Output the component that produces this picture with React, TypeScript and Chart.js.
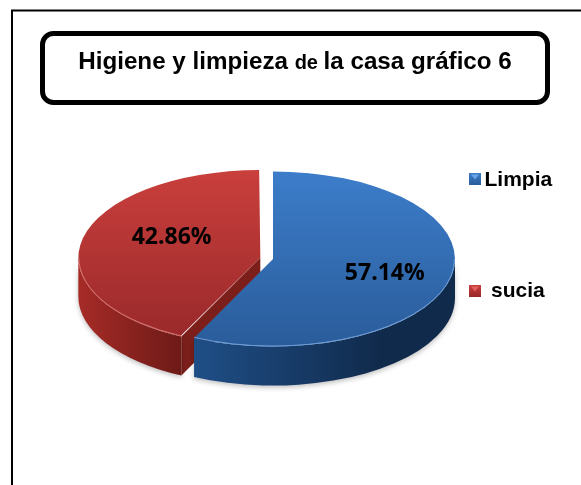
import React, { useEffect, useRef } from "react";
import { Chart, registerables } from "chart.js";

Chart.register(...registerables);

const categories = ["Limpia", "sucia"];
const values = [57.14, 42.86];
const valueLabels = ["57.14%", "42.86%"];
const explode = [0, 52];
const titleParts = [
  { text: "Higiene y limpieza ", size: 24.2 },
  { text: "de ", size: 20 },
  { text: "la casa gráfico 6", size: 24.2 },
];
const faceColors = [
  ["#3c7dca", "#2a5c9a"],
  ["#c93f3c", "#98282a"],
];
const sideColors = [
  ["#1f4f88", "#102a4b"],
  ["#a62b27", "#6a1916"],
];
const cutColor = "#7c1f1b";
const bevelColors = ["#6f9fdb", "#d8706c"];
const markerLights = ["#6aa6e6", "#e2605c"];

const RADIUS = 182;
const SQUASH = 0.481;
const DEPTH = 39;
const CENTER_Y = 259;
const SANS = '"Liberation Sans", Arial, sans-serif';
const LABEL_FONT = 'bold 23px "Open Sans", sans-serif';

function arcCenter(arc: any) {
  const mid = (arc.startAngle + arc.endAngle) / 2;
  const off = (arc.options.offset || 0) / 4;
  return { x: arc.x + Math.cos(mid) * off, y: arc.y + Math.sin(mid) * off * SQUASH, mid };
}

const frame3d = {
  id: "frame3d",
  afterDatasetsUpdate(chart: any) {
    // the library widens an offset slice; keep every slice at the same drawn radius
    chart.getDatasetMeta(0).data.forEach((arc: any) => {
      const off = (arc.options.offset || 0) / 4;
      const fix = 1 - Math.sin(Math.min(Math.PI, arc.circumference));
      arc.outerRadius = RADIUS - off * fix;
    });
  },
  beforeDraw(chart: any) {
    const ctx = chart.ctx;
    ctx.save();
    ctx.fillStyle = "#fff";
    ctx.fillRect(0, 0, chart.width, chart.height);
    ctx.strokeStyle = "#000";
    ctx.lineWidth = 2;
    ctx.beginPath();
    ctx.moveTo(12, chart.height);
    ctx.lineTo(12, 10.5);
    ctx.lineTo(chart.width, 10.5);
    ctx.stroke();
    ctx.lineWidth = 5;
    ctx.beginPath();
    ctx.roundRect(42.5, 33.5, 505, 69, 11);
    ctx.stroke();
    ctx.fillStyle = "#000";
    ctx.textBaseline = "alphabetic";
    ctx.textAlign = "left";
    let total = 0;
    for (const p of titleParts) {
      ctx.font = `bold ${p.size}px ${SANS}`;
      total += ctx.measureText(p.text).width;
    }
    let x = 295 - total / 2;
    for (const p of titleParts) {
      ctx.font = `bold ${p.size}px ${SANS}`;
      ctx.fillText(p.text, x, 68.5);
      x += ctx.measureText(p.text).width;
    }
    ctx.restore();
  },
  beforeDatasetsDraw(chart: any) {
    const ctx = chart.ctx;
    const arcs = chart.getDatasetMeta(0).data;
    ctx.save();
    [1, 0].forEach((i) => {
      const arc = arcs[i];
      const c = arcCenter(arc);
      const r = RADIUS;
      const ry = r * SQUASH;
      const a0 = Math.max(arc.startAngle, 0);
      const a1 = Math.min(arc.endAngle, Math.PI);
      if (i === 1) {
        ctx.fillStyle = cutColor;
        const ex = c.x + Math.cos(arc.startAngle) * r;
        const ey = c.y + Math.sin(arc.startAngle) * ry;
        ctx.beginPath();
        ctx.moveTo(c.x, c.y);
        ctx.lineTo(ex, ey);
        ctx.lineTo(ex, ey + DEPTH);
        ctx.lineTo(c.x, c.y + DEPTH);
        ctx.closePath();
        ctx.fill();
      }
      if (a1 > a0) {
        const g = ctx.createLinearGradient(i === 0 ? c.x - r * 0.45 : c.x - r, 0, i === 0 ? c.x + r * 0.6 : c.x - r * 0.4, 0);
        g.addColorStop(0, sideColors[i][0]);
        g.addColorStop(1, sideColors[i][1]);
        ctx.fillStyle = g;
        ctx.shadowColor = "rgba(0,0,0,0.25)";
        ctx.shadowBlur = 5;
        ctx.shadowOffsetY = 2;
        ctx.beginPath();
        ctx.ellipse(c.x, c.y, r, ry, 0, a0, a1);
        ctx.ellipse(c.x, c.y + DEPTH, r, ry, 0, a1, a0, true);
        ctx.closePath();
        ctx.fill();
        ctx.shadowColor = "transparent";
      }
    });
    ctx.restore();
    const cy = arcs[0].y;
    ctx.save();
    ctx.translate(0, cy);
    ctx.scale(1, SQUASH);
    ctx.translate(0, -cy);
  },
  afterDatasetsDraw(chart: any) {
    const ctx = chart.ctx;
    ctx.restore();
    const arcs = chart.getDatasetMeta(0).data;
    ctx.save();
    arcs.forEach((arc: any, i: number) => {
      const c = arcCenter(arc);
      const r = RADIUS;
      const a0 = Math.max(arc.startAngle, 0);
      const a1 = Math.min(arc.endAngle, Math.PI);
      if (a1 > a0) {
        ctx.strokeStyle = bevelColors[i];
        ctx.lineWidth = 1;
        ctx.beginPath();
        ctx.ellipse(c.x, c.y, r - 0.5, r * SQUASH - 0.5, 0, a0, a1);
        ctx.stroke();
      }
      const f = i === 0 ? 0.63 : 0.5;
      ctx.fillStyle = "#000";
      ctx.font = LABEL_FONT;
      ctx.textAlign = "center";
      ctx.textBaseline = "middle";
      ctx.fillText(
        valueLabels[i],
        c.x + Math.cos(c.mid) * r * f,
        c.y + Math.sin(c.mid) * r * SQUASH * f + (i === 0 ? 2 : -10)
      );
      const ly = i === 0 ? 173 : 285;
      const g = ctx.createLinearGradient(0, ly, 0, ly + 12);
      g.addColorStop(0, faceColors[i][0]);
      g.addColorStop(1, faceColors[i][1]);
      ctx.fillStyle = g;
      ctx.fillRect(469, ly, 12, 12);
      ctx.fillStyle = markerLights[i];
      ctx.beginPath();
      ctx.moveTo(471, ly + 1.5);
      ctx.lineTo(479, ly + 1.5);
      ctx.lineTo(475, ly + 6.5);
      ctx.closePath();
      ctx.fill();
      ctx.fillStyle = "#000";
      ctx.font = `bold 21px ${SANS}`;
      ctx.textAlign = "left";
      ctx.textBaseline = "alphabetic";
      ctx.fillText(categories[i], i === 0 ? 484.5 : 491, i === 0 ? 186 : 297);
    });
    ctx.restore();
  },
};

export default function App() {
  const ref = useRef<HTMLCanvasElement>(null);
  useEffect(() => {
    document.body.style.margin = "0";
    const chart = new Chart(ref.current!, {
      type: "pie",
      data: {
        labels: categories,
        datasets: [
          {
            data: values,
            offset: explode,
            borderWidth: 0,
            backgroundColor: (c: any) => {
              const g = c.chart.ctx.createLinearGradient(0, CENTER_Y - RADIUS, 0, CENTER_Y + RADIUS);
              const colors = faceColors[c.dataIndex] || faceColors[0];
              g.addColorStop(0, colors[0]);
              g.addColorStop(1, colors[1]);
              return g;
            },
          },
        ],
      },
      options: {
        responsive: false,
        animation: false,
        radius: RADIUS,
        layout: { padding: { top: 33, right: 35 } },
        plugins: { legend: { display: false }, title: { display: false }, tooltip: { enabled: false } },
        events: [],
      } as any,
      plugins: [frame3d],
    });
    return () => chart.destroy();
  }, []);
  return <canvas ref={ref} width={581} height={485} style={{ display: "block" }} />;
}
